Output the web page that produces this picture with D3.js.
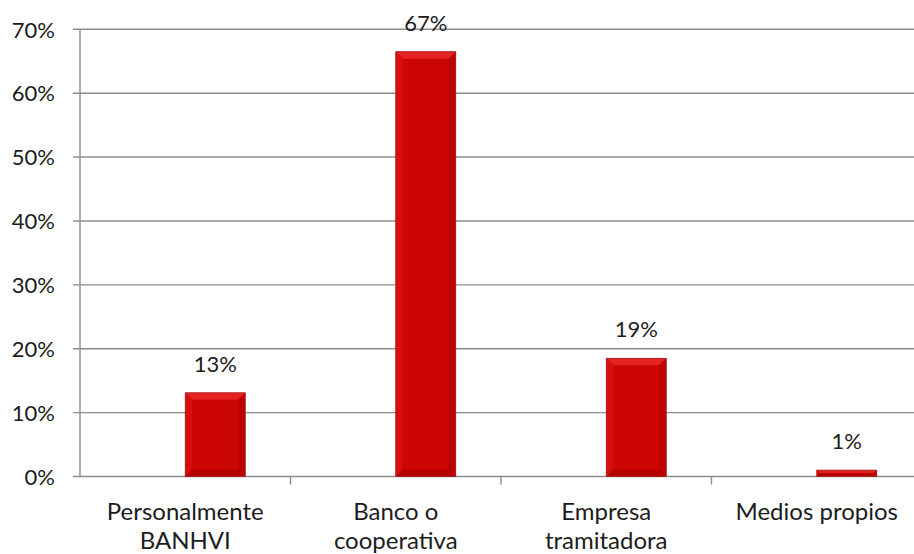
<!DOCTYPE html>
<html>
<head>
<meta charset="utf-8">
<script src="https://cdn.jsdelivr.net/npm/d3@7"></script>
<style>
  html, body { margin: 0; padding: 0; background: #fff; }
  svg { display: block; }
  text { font-family: Lato, "Open Sans", sans-serif; fill: #1c1c1c; }
</style>
</head>
<body>
<svg id="chart" width="914" height="554"></svg>
<script>
// Medio utilizado para realizar el trámite
const categories = [["Personalmente", "BANHVI"], ["Banco o", "cooperativa"], ["Empresa", "tramitadora"], ["Medios propios"]];
const seriesNames = ["vacía", "Porcentaje"];
const emptySeries = [null, null, null, null];
const percentValues = [0.131, 0.665, 0.185, 0.01];
const yTicks = [0, 0.1, 0.2, 0.3, 0.4, 0.5, 0.6, 0.7];

const svg = d3.select("#chart");
const margin = { left: 80, top: 29.3, bottom: 476.5 };
const bandStep = 210.5;

const x = d3.scaleBand()
  .domain(d3.range(categories.length))
  .range([margin.left, margin.left + bandStep * categories.length])
  .paddingInner(0).paddingOuter(0);

// two clustered series; the first has no values so bars sit right of centre
const barW = 60;
const xSeries = d3.scaleBand()
  .domain(seriesNames)
  .range([x.bandwidth() / 2 - barW, x.bandwidth() / 2 + barW]);

const y = d3.scaleLinear().domain([0, 0.7]).range([margin.bottom, margin.top]);

// gridlines
svg.append("g")
  .selectAll("line")
  .data(yTicks)
  .join("line")
  .attr("x1", margin.left - 7)
  .attr("x2", 914)
  .attr("y1", d => y(d))
  .attr("y2", d => y(d))
  .attr("stroke", "#8c8c8c")
  .attr("stroke-width", 1.4);

// y axis labels
const yAxis = d3.axisLeft(y).tickValues(yTicks).tickFormat(d3.format(".0%")).tickSize(0).tickPadding(0);
const gy = svg.append("g").attr("transform", `translate(${margin.left},0)`).call(yAxis);
gy.select(".domain").remove();
gy.selectAll("text")
  .attr("x", -25)
  .attr("dy", "0.35em")
  .attr("font-size", 22)
  .attr("font-family", "Lato, sans-serif")
  .attr("fill", "#1c1c1c");

// y axis line
svg.append("line")
  .attr("x1", margin.left).attr("x2", margin.left)
  .attr("y1", margin.top).attr("y2", margin.bottom)
  .attr("stroke", "#8c8c8c").attr("stroke-width", 1.4);

// category tick marks
svg.append("g")
  .selectAll("line")
  .data(d3.range(1, categories.length + 1))
  .join("line")
  .attr("x1", i => margin.left + x.step() * i)
  .attr("x2", i => margin.left + x.step() * i)
  .attr("y1", margin.bottom)
  .attr("y2", margin.bottom + 8)
  .attr("stroke", "#8c8c8c").attr("stroke-width", 1.4);

// category labels
const catG = svg.append("g");
categories.forEach((lines, i) => {
  const t = catG.append("text")
    .attr("x", x(i) + x.bandwidth() / 2)
    .attr("y", 520)
    .attr("text-anchor", "middle")
    .attr("font-size", 24);
  lines.forEach((ln, j) => {
    t.append("tspan")
      .attr("x", x(i) + x.bandwidth() / 2)
      .attr("dy", j === 0 ? 0 : 28.5)
      .text(ln);
  });
});

// beveled red bars
const barsData = percentValues.map((v, i) => ({ i, v }));
const barG = svg.append("g");
barsData.forEach(d => {
  const x0 = x(d.i) + xSeries("Porcentaje");
  const x1 = x0 + barW;
  const y0 = y(d.v);
  const y1 = y(0);
  const h = y1 - y0;
  const b = Math.min(7, h / 2, barW / 2);
  const g = barG.append("g");
  g.append("rect")
    .attr("x", x0).attr("y", y0).attr("width", barW).attr("height", h)
    .attr("fill", "#cc0505");
  // top bevel
  g.append("polygon")
    .attr("points", [[x0, y0], [x1, y0], [x1 - b, y0 + b], [x0 + b, y0 + b]].join(" "))
    .attr("fill", "#e42222");
  // left bevel
  g.append("polygon")
    .attr("points", [[x0, y0], [x0 + b, y0 + b], [x0 + b, y1 - b], [x0, y1]].join(" "))
    .attr("fill", "#d60e0e");
  // right bevel
  g.append("polygon")
    .attr("points", [[x1, y0], [x1 - b, y0 + b], [x1 - b, y1 - b], [x1, y1]].join(" "))
    .attr("fill", "#bd0202");
  // bottom bevel
  g.append("polygon")
    .attr("points", [[x0, y1], [x0 + b, y1 - b], [x1 - b, y1 - b], [x1, y1]].join(" "))
    .attr("fill", "#b50000");
  g.append("rect")
    .attr("x", x0).attr("y", y0).attr("width", barW).attr("height", h)
    .attr("fill", "none").attr("stroke", "#a52a2a").attr("stroke-width", 0.8);

  // value label
  svg.append("text")
    .attr("x", x0 + barW / 2)
    .attr("y", y0 - 21)
    .attr("text-anchor", "middle")
    .attr("font-size", 22)
    .text(d3.format(".0%")(d.v));
});
</script>
</body>
</html>
